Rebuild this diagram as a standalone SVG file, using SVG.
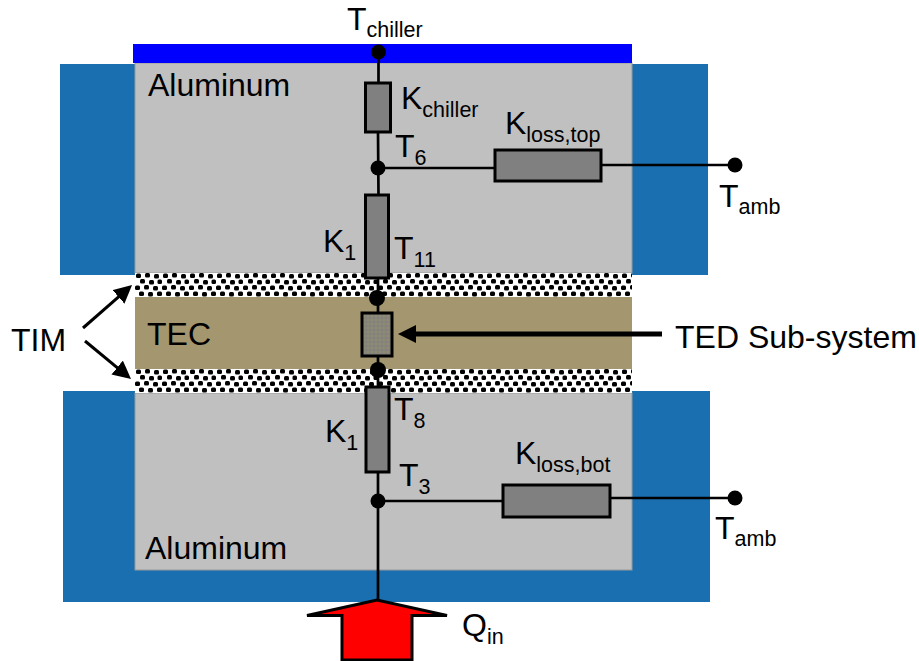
<svg xmlns="http://www.w3.org/2000/svg" width="919" height="661" viewBox="0 0 919 661">
<style>
text{font-family:"Liberation Sans",Arial,sans-serif;fill:#000;font-size:32px}
.s{font-size:21.5px}
.w{fill:none;stroke:#000;stroke-width:2.7}
.r{fill:#808080;stroke:#000;stroke-width:3}
.d{fill:#000}
.b{fill:#1a6fb0}
.g{fill:#c0c0c0}
</style>
<defs>
<pattern id="tim" width="27" height="24" patternUnits="userSpaceOnUse" x="135" y="273">
<rect width="27" height="24" fill="#fff"/>
<g fill="#000"><rect x="1" y="0.500" width="5" height="4.500" rx="1.500"/><rect x="10" y="0" width="5" height="4.500" rx="1.500"/><rect x="19" y="1" width="5" height="4.500" rx="1.500"/><rect x="5" y="6" width="5" height="4.500" rx="1.500"/><rect x="14" y="7" width="5" height="4.500" rx="1.500"/><rect x="22.500" y="6.500" width="4.500" height="4.500" rx="1.500"/><rect x="0" y="12.500" width="5" height="4.500" rx="1.500"/><rect x="9" y="12" width="5" height="4.500" rx="1.500"/><rect x="18" y="13" width="5" height="4.500" rx="1.500"/><rect x="4" y="18.500" width="5" height="4.500" rx="1.500"/><rect x="13" y="19" width="5" height="4.500" rx="1.500"/><rect x="22" y="18.500" width="5" height="4.500" rx="1.500"/></g>
</pattern>
<pattern id="ted" width="4" height="4" patternUnits="userSpaceOnUse"><rect width="4" height="4" fill="#8f8a72"/><path d="M0 2H4M2 0V4" stroke="#7f7f7f" stroke-width="1"/></pattern>
<marker id="ah" markerUnits="userSpaceOnUse" markerWidth="24" markerHeight="24" refX="2" refY="9" orient="auto"><path d="M0 0L18 9L0 18Z" fill="#000"/></marker>
</defs>
<g id="housing-top-left"><rect class="b" x="60" y="64" width="75" height="211"/></g>
<g id="housing-top-right"><rect class="b" x="632" y="64" width="76" height="211"/></g>
<g id="housing-bottom"><rect class="b" x="63" y="391" width="647" height="211"/></g>
<g id="aluminum-top"><rect class="g" x="135" y="63" width="497" height="210" stroke="#999" stroke-width="1"/><text x="148" y="96">Aluminum</text></g>
<g id="aluminum-bottom"><rect class="g" x="135" y="393" width="497" height="177" stroke="#999" stroke-width="1"/><text x="145" y="559">Aluminum</text></g>
<g id="chiller-plate"><rect x="133" y="44" width="499" height="19" fill="#0000ff"/></g>
<g id="tim-top"><rect x="135" y="273" width="497" height="24" fill="url(#tim)"/></g>
<g id="tim-bottom"><rect x="135" y="369" width="497" height="24" fill="url(#tim)"/></g>
<g id="tec"><rect x="135" y="297" width="497" height="72" fill="#a4966f"/><text x="147" y="345">TEC</text></g>
<g id="connectors">
<path class="w" d="M378.500 52V84M378 132L378.500 195M378 168H495M601 165H735M378 278V313M378 356V387M378 472V600M378 501H503M610 498H735"/>
<path d="M83 328L120 295.600" fill="none" stroke="#000" stroke-width="3" marker-end="url(#ah)"/>
<path d="M85 341L118.700 368.800" fill="none" stroke="#000" stroke-width="3" marker-end="url(#ah)"/>
<path d="M662 334H414" fill="none" stroke="#000" stroke-width="5" marker-end="url(#ah)"/>
</g>
<g id="node-t-chiller"><circle class="d" cx="378.500" cy="52" r="7.500"/><text x="347" y="30">T<tspan class="s" dy="7">chiller</tspan></text></g>
<g id="node-k-chiller"><rect class="r" x="365.500" y="83" width="25" height="49"/><text x="401" y="109">K<tspan class="s" dy="8">chiller</tspan></text></g>
<g id="node-t6"><circle class="d" cx="378" cy="168" r="7.500"/><text x="395" y="157">T<tspan class="s" dy="8">6</tspan></text></g>
<g id="node-k-loss-top"><rect class="r" x="495" y="150" width="106" height="31"/><text x="505" y="134">K<tspan class="s" dy="8">loss,top</tspan></text></g>
<g id="node-t-amb-top"><circle class="d" cx="735" cy="165" r="7.500"/><text x="719" y="207">T<tspan class="s" dy="7">amb</tspan></text></g>
<g id="node-k1-top"><rect class="r" x="365.500" y="195" width="23" height="83"/><text x="323" y="252">K<tspan class="s" dy="8">1</tspan></text></g>
<g id="node-t11"><text x="394" y="259">T<tspan class="s" dy="8">11</tspan></text></g>
<g id="node-junction-upper"><circle class="d" cx="377" cy="298" r="8"/></g>
<g id="node-ted"><rect x="362" y="313" width="30" height="43" fill="url(#ted)" stroke="#000" stroke-width="3"/></g>
<g id="node-junction-lower"><circle class="d" cx="378" cy="370" r="8"/></g>
<g id="node-k1-bottom"><rect class="r" x="366" y="387" width="23" height="85"/><text x="325" y="442">K<tspan class="s" dy="8">1</tspan></text></g>
<g id="node-t8"><text x="394" y="420">T<tspan class="s" dy="8">8</tspan></text></g>
<g id="node-t3"><circle class="d" cx="378" cy="501" r="7.500"/><text x="399" y="486">T<tspan class="s" dy="8">3</tspan></text></g>
<g id="node-k-loss-bot"><rect class="r" x="503" y="485" width="107" height="32"/><text x="515" y="464">K<tspan class="s" dy="8">loss,bot</tspan></text></g>
<g id="node-t-amb-bottom"><circle class="d" cx="735" cy="498" r="7.500"/><text x="715" y="539">T<tspan class="s" dy="7">amb</tspan></text></g>
<g id="label-tim"><text x="11" y="351">TIM</text></g>
<g id="label-ted"><text x="675" y="348">TED Sub-system</text></g>
<g id="q-in"><path d="M307 615.500L377 600L447 615.500H412V660H342V615.500Z" fill="#ff0000" stroke="#000" stroke-width="3"/><text x="462" y="636">Q<tspan class="s" dy="8">in</tspan></text></g>
</svg>
